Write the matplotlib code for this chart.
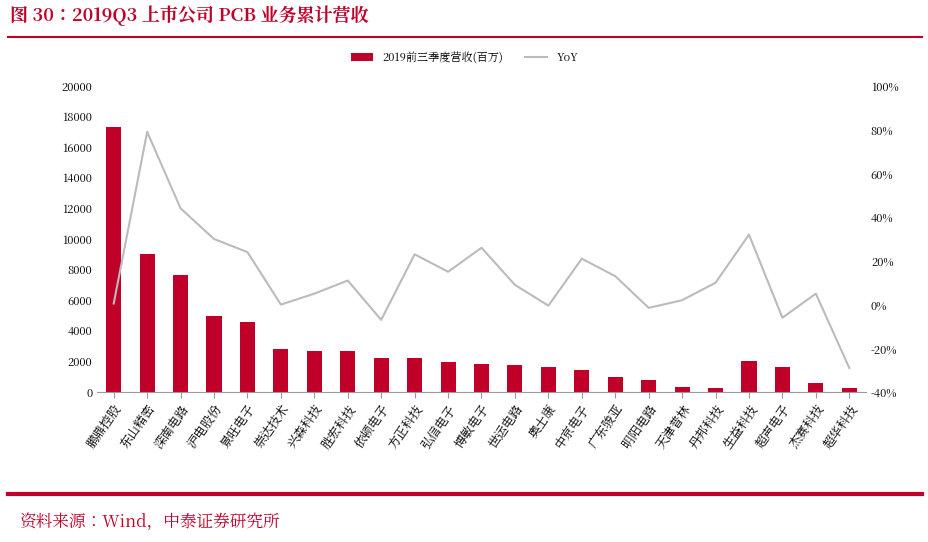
import matplotlib
matplotlib.use("Agg")
import matplotlib.pyplot as plt
from matplotlib import font_manager as fm
from matplotlib.ticker import FuncFormatter
import glob

for f in glob.glob("/usr/share/fonts/**/*CJK*", recursive=True):
    try:
        fm.fontManager.addfont(f)
    except Exception:
        pass
cjk = [f.name for f in fm.fontManager.ttflist if "CJK" in f.name]
pref = [n for n in cjk if "SC" in n] or cjk
plt.rcParams["font.family"] = "sans-serif"
plt.rcParams["font.sans-serif"] = (pref[:1] if pref else []) + ["DejaVu Sans"]
plt.rcParams["axes.unicode_minus"] = False

companies = ["鹏鼎控股","东山精密","深南电路","沪电股份","景旺电子","崇达技术","兴森科技","胜宏科技",
             "依顿电子","方正科技","弘信电子","博敏电子","世运电路","奥士康","中京电子","广东骏亚",
             "明阳电路","天津普林","丹邦科技","生益科技","超声电子","杰赛科技","超华科技"]
revenue = [17300, 9000, 7650, 5000, 4550, 2800, 2700, 2700, 2250, 2200, 1950, 1800, 1750, 1650,
           1450, 1000, 800, 300, 250, 2000, 1650, 600, 250]
yoy = [0.5, 79, 44, 30, 24, 0, 5, 11, -7, 23, 15, 26, 9, -0.5, 21, 13, -1.5, 2, 10, 32, -6, 5, -29]

red = "#C00029"
fig = plt.figure(figsize=(9.29, 5.42), dpi=100)
ax = fig.add_axes([97/929, 1-392/542, (866-97)/929, (392-86)/542])
x = range(len(companies))
ax.bar(x, revenue, width=0.45, color=red, label="2019前三季度营收(百万)")
ax.set_ylim(0, 20000)
ax.set_yticks(range(0, 20001, 2000))
ax.set_xlim(-0.5, len(companies)-0.5)
ax.set_xticks(list(x))
ax.set_xticklabels(companies, rotation=55, ha="right", rotation_mode="anchor", fontsize=9)
ax.tick_params(axis="y", labelsize=8, length=0)
ax.tick_params(axis="x", length=4, color="#999999")
for s in ["top", "right", "left"]:
    ax.spines[s].set_visible(False)
ax.spines["bottom"].set_color("#999999")

ax2 = ax.twinx()
ax2.plot(list(x), yoy, color="#BBBBBB", lw=1.5, label="YoY")
ax2.set_ylim(-40, 100)
ax2.set_yticks(range(-40, 101, 20))
ax2.yaxis.set_major_formatter(FuncFormatter(lambda v, p: f"{int(v)}%"))
ax2.tick_params(axis="y", labelsize=8, length=0)
for s in ["top", "right", "left", "bottom"]:
    ax2.spines[s].set_visible(False)

h1, l1 = ax.get_legend_handles_labels()
h2, l2 = ax2.get_legend_handles_labels()
fig.legend(h1+h2, l1+l2, loc="center", bbox_to_anchor=(0.5, 1-58/542), ncol=2, frameon=False, fontsize=8)

fig.text(10/929, 1-16/542, "图 30：2019Q3 上市公司 PCB 业务累计营收", color=red, fontsize=13,
         fontweight="bold", va="center")
fig.add_artist(plt.Line2D([8/929, 922/929], [1-37/542]*2, color=red, lw=1.5))
fig.add_artist(plt.Line2D([8/929, 922/929], [1-494/542]*2, color=red, lw=3))
fig.text(20/929, 1-522/542, "资料来源：Wind，中泰证券研究所", color=red, fontsize=12, va="center")
fig.savefig("out.png", dpi=100)
